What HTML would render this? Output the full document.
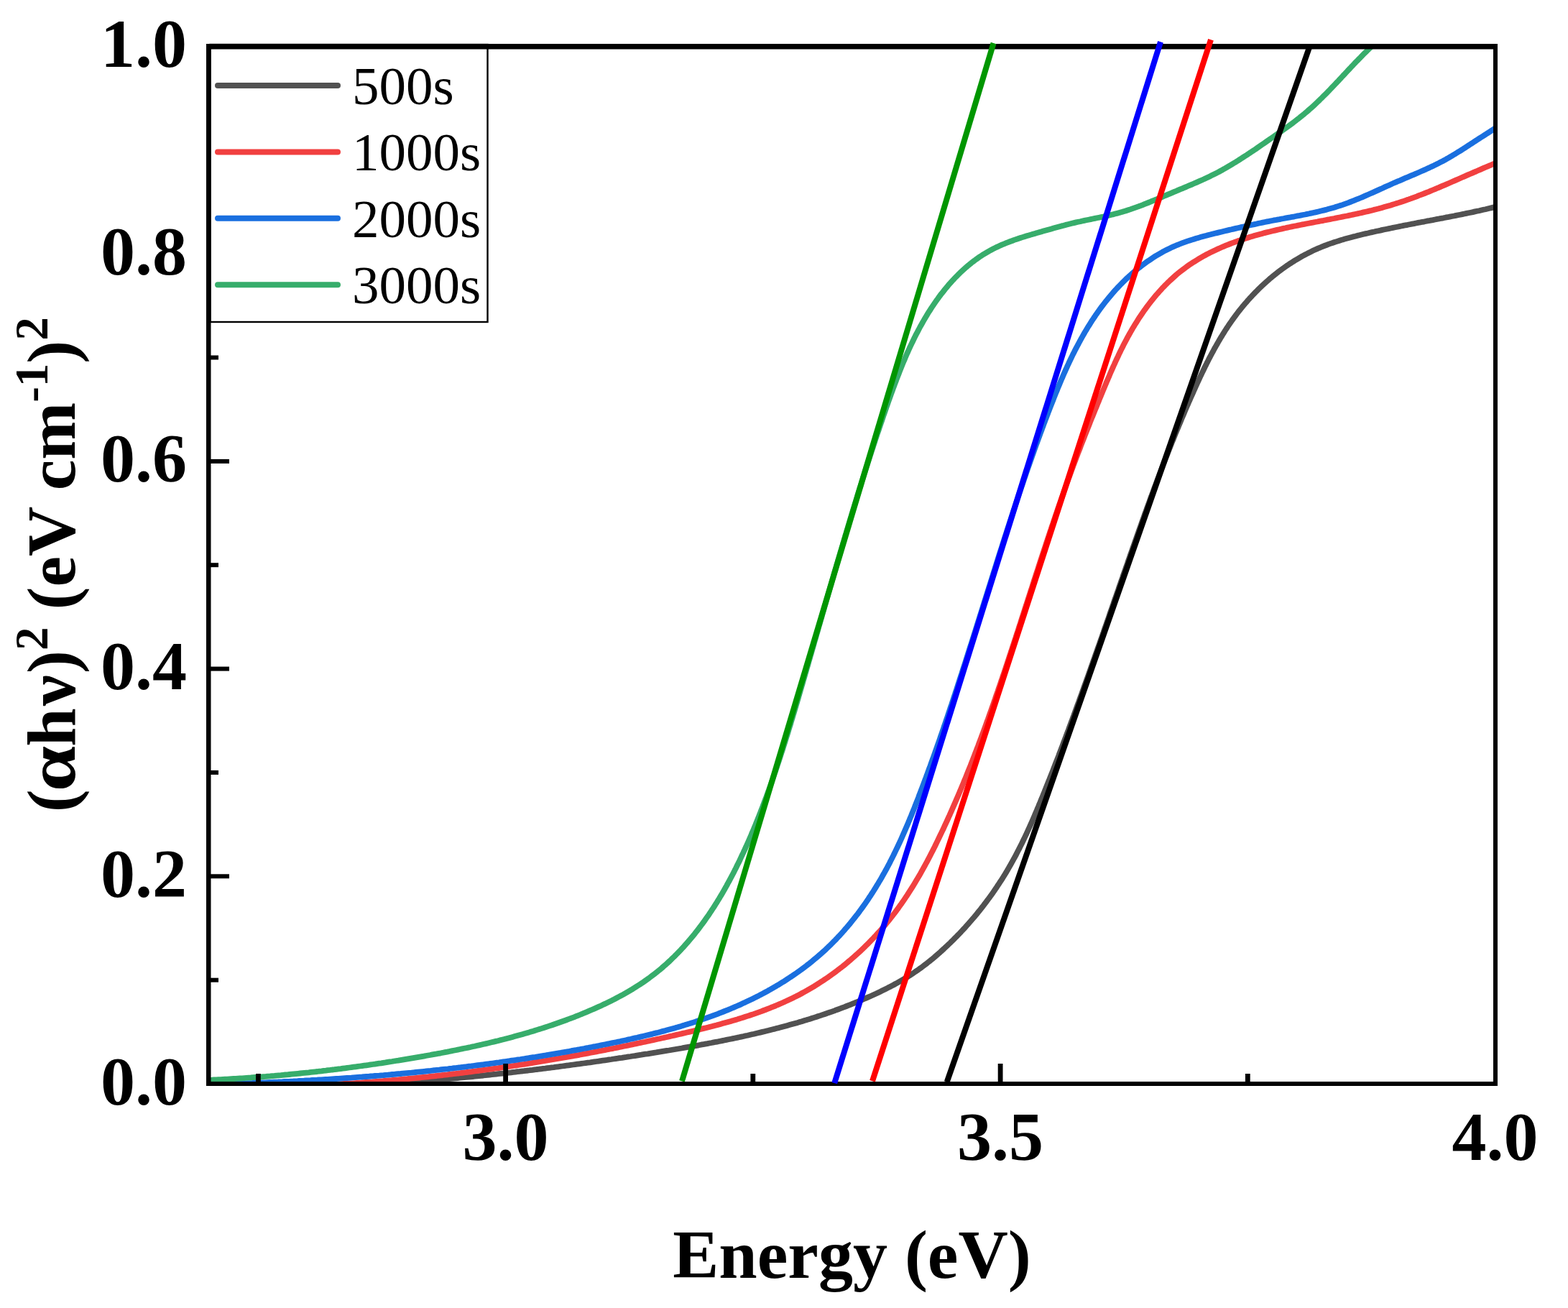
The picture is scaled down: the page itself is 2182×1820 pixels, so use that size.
<!DOCTYPE html>
<html><head><meta charset="utf-8"><title>Tauc plot</title>
<style>
html,body{margin:0;padding:0;background:#fff;}
svg{display:block;}
.tk{font-family:"Liberation Serif","Times New Roman",serif;font-weight:bold;font-size:96px;fill:#000;}
.lg{font-family:"Liberation Serif","Times New Roman",serif;font-size:75px;fill:#000;}
.ti{font-family:"Liberation Serif","Times New Roman",serif;font-weight:bold;font-size:96px;fill:#000;}
</style></head>
<body>
<svg width="2182" height="1820" viewBox="0 0 2182 1820">
<rect width="2182" height="1820" fill="#fff"/>
<defs><clipPath id="pc"><rect x="290" y="64" width="1791" height="1444"/></clipPath></defs>
<g clip-path="url(#pc)">
<polyline points="489.8,1510.8 492.8,1510.6 495.8,1510.5 498.8,1510.3 501.9,1510.1 504.9,1510.0 507.9,1509.8 510.9,1509.6 513.9,1509.4 516.9,1509.3 519.9,1509.1 522.9,1508.9 526.0,1508.7 529.0,1508.5 532.0,1508.3 535.0,1508.1 538.0,1507.9 541.0,1507.7 544.0,1507.5 547.0,1507.3 550.0,1507.1 553.0,1506.9 556.0,1506.7 559.0,1506.5 562.0,1506.2 565.0,1506.0 568.0,1505.8 571.0,1505.6 574.0,1505.3 577.0,1505.1 580.0,1504.9 583.0,1504.6 586.0,1504.4 589.0,1504.2 592.0,1503.9 595.0,1503.7 598.0,1503.4 600.9,1503.2 603.9,1502.9 606.9,1502.7 609.9,1502.4 612.9,1502.2 615.9,1501.9 618.9,1501.6 621.9,1501.4 624.8,1501.1 627.8,1500.8 630.8,1500.5 633.8,1500.3 636.8,1500.0 639.8,1499.7 642.8,1499.4 645.7,1499.1 648.7,1498.8 651.7,1498.6 654.7,1498.3 657.7,1498.0 660.6,1497.7 663.6,1497.4 666.6,1497.1 669.6,1496.8 672.6,1496.5 675.5,1496.1 678.5,1495.8 681.5,1495.5 684.5,1495.2 687.4,1494.9 690.4,1494.6 693.4,1494.2 696.4,1493.9 699.3,1493.6 702.3,1493.3 705.3,1492.9 708.3,1492.6 711.2,1492.3 714.2,1491.9 717.2,1491.6 720.1,1491.2 723.1,1490.9 726.1,1490.5 729.1,1490.2 732.0,1489.8 735.0,1489.5 738.0,1489.1 740.9,1488.8 743.9,1488.4 746.9,1488.0 749.9,1487.7 752.8,1487.3 755.8,1486.9 758.8,1486.6 761.7,1486.2 764.7,1485.8 767.7,1485.4 770.6,1485.1 773.6,1484.7 776.6,1484.3 779.5,1483.9 782.5,1483.5 785.5,1483.1 788.4,1482.7 791.4,1482.3 794.4,1481.9 797.3,1481.5 800.3,1481.1 803.3,1480.7 806.2,1480.3 809.2,1479.9 812.2,1479.5 815.1,1479.1 818.1,1478.7 821.1,1478.3 824.0,1477.8 827.0,1477.4 830.0,1477.0 832.9,1476.6 835.9,1476.1 838.9,1475.7 841.8,1475.3 844.8,1474.9 847.8,1474.4 850.7,1474.0 853.7,1473.5 856.7,1473.1 859.6,1472.7 862.6,1472.2 865.6,1471.8 868.5,1471.3 871.5,1470.9 874.5,1470.4 877.4,1470.0 880.4,1469.5 883.4,1469.1 886.3,1468.6 889.3,1468.1 892.3,1467.7 895.2,1467.2 898.2,1466.7 901.2,1466.3 904.2,1465.8 907.1,1465.3 910.1,1464.8 913.1,1464.4 916.0,1463.9 919.0,1463.4 922.0,1462.9 924.9,1462.4 927.9,1461.9 930.9,1461.5 933.9,1461.0 936.8,1460.5 939.8,1460.0 942.8,1459.5 945.7,1459.0 948.7,1458.5 951.7,1457.9 954.6,1457.4 957.6,1456.9 960.6,1456.4 963.5,1455.9 966.5,1455.3 969.5,1454.8 972.4,1454.3 975.4,1453.7 978.4,1453.2 981.3,1452.6 984.3,1452.1 987.3,1451.5 990.2,1451.0 993.2,1450.4 996.1,1449.8 999.1,1449.3 1002.0,1448.7 1005.0,1448.1 1007.9,1447.5 1010.9,1446.9 1013.8,1446.3 1016.8,1445.7 1019.7,1445.1 1022.7,1444.5 1025.6,1443.9 1028.6,1443.2 1031.5,1442.6 1034.5,1442.0 1037.4,1441.3 1040.3,1440.7 1043.3,1440.0 1046.2,1439.3 1049.1,1438.7 1052.0,1438.0 1055.0,1437.3 1057.9,1436.6 1060.8,1435.9 1063.7,1435.2 1066.6,1434.5 1069.6,1433.8 1072.5,1433.0 1075.4,1432.3 1078.3,1431.6 1081.2,1430.8 1084.1,1430.1 1087.0,1429.3 1089.9,1428.5 1092.8,1427.7 1095.7,1426.9 1098.6,1426.1 1101.4,1425.3 1104.3,1424.5 1107.2,1423.7 1110.1,1422.9 1112.9,1422.0 1115.8,1421.2 1118.7,1420.3 1121.5,1419.4 1124.4,1418.6 1127.3,1417.7 1130.1,1416.8 1133.0,1415.9 1135.8,1415.0 1138.6,1414.0 1141.5,1413.1 1144.3,1412.1 1147.1,1411.2 1150.0,1410.2 1152.8,1409.2 1155.6,1408.3 1158.4,1407.3 1161.2,1406.3 1164.0,1405.2 1166.9,1404.2 1169.7,1403.2 1172.4,1402.1 1175.2,1401.1 1178.0,1400.0 1180.8,1398.9 1183.6,1397.8 1186.4,1396.7 1189.1,1395.6 1191.9,1394.5 1194.7,1393.3 1197.4,1392.2 1200.2,1391.0 1202.9,1389.8 1205.6,1388.6 1208.4,1387.4 1211.1,1386.2 1213.8,1385.0 1216.6,1383.7 1219.3,1382.5 1222.0,1381.2 1224.7,1379.9 1227.4,1378.6 1230.1,1377.3 1232.7,1376.0 1235.4,1374.6 1238.1,1373.3 1240.7,1371.9 1243.4,1370.5 1246.0,1369.0 1248.6,1367.6 1251.2,1366.1 1253.8,1364.6 1256.4,1363.1 1258.9,1361.6 1261.5,1360.1 1264.0,1358.5 1266.6,1356.9 1269.1,1355.3 1271.6,1353.6 1274.0,1351.9 1276.5,1350.3 1278.9,1348.5 1281.4,1346.8 1283.8,1345.0 1286.2,1343.2 1288.6,1341.4 1290.9,1339.5 1293.3,1337.7 1295.6,1335.8 1297.9,1333.9 1300.2,1332.0 1302.5,1330.0 1304.8,1328.0 1307.1,1326.1 1309.3,1324.0 1311.5,1322.0 1313.7,1320.0 1315.9,1317.9 1318.1,1315.9 1320.3,1313.8 1322.5,1311.7 1324.6,1309.6 1326.8,1307.5 1328.9,1305.3 1331.0,1303.2 1333.1,1301.0 1335.2,1298.9 1337.3,1296.7 1339.3,1294.5 1341.4,1292.3 1343.4,1290.1 1345.4,1287.8 1347.4,1285.6 1349.4,1283.3 1351.4,1281.0 1353.3,1278.8 1355.3,1276.5 1357.2,1274.2 1359.1,1271.9 1361.0,1269.5 1362.9,1267.2 1364.8,1264.8 1366.6,1262.5 1368.5,1260.1 1370.3,1257.7 1372.1,1255.3 1373.9,1252.9 1375.7,1250.5 1377.5,1248.1 1379.2,1245.7 1381.0,1243.2 1382.7,1240.8 1384.4,1238.3 1386.1,1235.8 1387.7,1233.3 1389.4,1230.8 1391.0,1228.3 1392.7,1225.8 1394.3,1223.3 1395.9,1220.7 1397.5,1218.2 1399.0,1215.7 1400.6,1213.1 1402.1,1210.5 1403.6,1207.9 1405.1,1205.3 1406.6,1202.8 1408.0,1200.1 1409.5,1197.5 1410.9,1194.9 1412.4,1192.3 1413.8,1189.6 1415.1,1187.0 1416.5,1184.3 1417.9,1181.7 1419.2,1179.0 1420.6,1176.3 1421.9,1173.7 1423.2,1171.0 1424.5,1168.3 1425.8,1165.6 1427.1,1162.9 1428.4,1160.2 1429.6,1157.5 1430.9,1154.7 1432.1,1152.0 1433.3,1149.3 1434.6,1146.5 1435.8,1143.8 1437.0,1141.1 1438.2,1138.3 1439.4,1135.6 1440.5,1132.8 1441.7,1130.0 1442.9,1127.3 1444.0,1124.5 1445.2,1121.8 1446.3,1119.0 1447.5,1116.2 1448.6,1113.4 1449.8,1110.7 1450.9,1107.9 1452.0,1105.1 1453.2,1102.3 1454.3,1099.5 1455.4,1096.8 1456.5,1094.0 1457.6,1091.2 1458.7,1088.4 1459.9,1085.6 1461.0,1082.8 1462.1,1080.0 1463.2,1077.2 1464.3,1074.4 1465.4,1071.7 1466.4,1068.9 1467.5,1066.1 1468.6,1063.3 1469.7,1060.5 1470.8,1057.7 1471.9,1054.9 1473.0,1052.1 1474.0,1049.3 1475.1,1046.5 1476.2,1043.7 1477.2,1040.9 1478.3,1038.1 1479.4,1035.2 1480.4,1032.4 1481.5,1029.6 1482.6,1026.8 1483.6,1024.0 1484.7,1021.2 1485.7,1018.4 1486.8,1015.6 1487.8,1012.8 1488.9,1010.0 1489.9,1007.1 1491.0,1004.3 1492.0,1001.5 1493.0,998.7 1494.1,995.9 1495.1,993.1 1496.1,990.3 1497.2,987.4 1498.2,984.6 1499.2,981.8 1500.3,979.0 1501.3,976.2 1502.3,973.3 1503.3,970.5 1504.4,967.7 1505.4,964.9 1506.4,962.0 1507.4,959.2 1508.4,956.4 1509.4,953.6 1510.5,950.7 1511.5,947.9 1512.5,945.1 1513.5,942.3 1514.5,939.4 1515.5,936.6 1516.5,933.8 1517.5,931.0 1518.5,928.1 1519.5,925.3 1520.5,922.5 1521.5,919.6 1522.5,916.8 1523.5,914.0 1524.5,911.1 1525.5,908.3 1526.5,905.5 1527.5,902.6 1528.5,899.8 1529.5,897.0 1530.5,894.2 1531.5,891.3 1532.5,888.5 1533.5,885.7 1534.5,882.8 1535.5,880.0 1536.4,877.2 1537.4,874.3 1538.4,871.5 1539.4,868.7 1540.4,865.8 1541.4,863.0 1542.4,860.2 1543.4,857.3 1544.3,854.5 1545.3,851.6 1546.3,848.8 1547.3,846.0 1548.3,843.1 1549.3,840.3 1550.2,837.5 1551.2,834.6 1552.2,831.8 1553.2,829.0 1554.2,826.1 1555.2,823.3 1556.2,820.5 1557.1,817.6 1558.1,814.8 1559.1,812.0 1560.1,809.1 1561.1,806.3 1562.1,803.5 1563.0,800.6 1564.0,797.8 1565.0,795.0 1566.0,792.2 1567.0,789.3 1568.0,786.5 1569.0,783.7 1569.9,780.8 1570.9,778.0 1571.9,775.2 1572.9,772.3 1573.9,769.5 1574.9,766.7 1575.9,763.9 1576.9,761.0 1577.9,758.2 1578.9,755.4 1579.9,752.5 1580.9,749.7 1581.9,746.9 1582.9,744.1 1583.9,741.2 1584.9,738.4 1585.9,735.6 1586.9,732.8 1587.9,730.0 1588.9,727.1 1589.9,724.3 1590.9,721.5 1591.9,718.7 1592.9,715.8 1594.0,713.0 1595.0,710.2 1596.0,707.4 1597.0,704.6 1598.1,701.8 1599.1,698.9 1600.1,696.1 1601.1,693.3 1602.2,690.5 1603.2,687.7 1604.3,684.9 1605.3,682.1 1606.3,679.3 1607.4,676.5 1608.4,673.7 1609.5,670.8 1610.5,668.0 1611.6,665.2 1612.7,662.4 1613.7,659.6 1614.8,656.8 1615.9,654.0 1616.9,651.2 1618.0,648.4 1619.1,645.6 1620.2,642.8 1621.2,640.0 1622.3,637.3 1623.4,634.5 1624.5,631.7 1625.6,628.9 1626.7,626.1 1627.8,623.3 1628.9,620.5 1630.0,617.7 1631.1,614.9 1632.3,612.2 1633.4,609.4 1634.5,606.6 1635.6,603.8 1636.8,601.0 1637.9,598.3 1639.1,595.5 1640.2,592.7 1641.4,589.9 1642.5,587.2 1643.7,584.4 1644.8,581.6 1646.0,578.9 1647.2,576.1 1648.4,573.3 1649.5,570.6 1650.7,567.8 1651.9,565.0 1653.1,562.3 1654.3,559.5 1655.5,556.8 1656.7,554.0 1657.9,551.3 1659.2,548.5 1660.4,545.8 1661.6,543.0 1662.9,540.3 1664.1,537.5 1665.3,534.8 1666.6,532.1 1667.9,529.3 1669.1,526.6 1670.4,523.9 1671.7,521.1 1673.0,518.4 1674.3,515.7 1675.6,513.0 1676.9,510.3 1678.3,507.6 1679.6,504.9 1681.0,502.2 1682.3,499.6 1683.7,496.9 1685.1,494.2 1686.5,491.6 1688.0,489.0 1689.4,486.3 1690.8,483.7 1692.3,481.1 1693.8,478.5 1695.3,475.9 1696.8,473.3 1698.3,470.7 1699.9,468.2 1701.4,465.6 1703.0,463.1 1704.6,460.5 1706.2,458.0 1707.9,455.5 1709.5,453.0 1711.2,450.6 1712.9,448.1 1714.6,445.6 1716.4,443.2 1718.1,440.8 1719.9,438.4 1721.7,436.0 1723.5,433.6 1725.4,431.3 1727.3,428.9 1729.1,426.6 1731.1,424.3 1733.0,422.0 1735.0,419.8 1736.9,417.5 1738.9,415.3 1741.0,413.1 1743.0,410.9 1745.1,408.7 1747.2,406.5 1749.3,404.4 1751.4,402.3 1753.5,400.2 1755.7,398.1 1757.9,396.1 1760.1,394.1 1762.3,392.1 1764.6,390.1 1766.8,388.1 1769.1,386.2 1771.4,384.3 1773.7,382.4 1776.1,380.6 1778.4,378.7 1780.8,376.9 1783.2,375.1 1785.6,373.4 1788.1,371.6 1790.5,369.9 1793.0,368.3 1795.5,366.6 1798.0,365.0 1800.5,363.4 1803.0,361.8 1805.6,360.3 1808.1,358.8 1810.7,357.3 1813.3,355.9 1815.9,354.5 1818.6,353.1 1821.2,351.7 1823.9,350.4 1826.6,349.1 1829.3,347.8 1832.0,346.6 1834.7,345.4 1837.5,344.3 1840.2,343.1 1843.0,342.0 1845.8,341.0 1848.6,339.9 1851.4,338.9 1854.2,338.0 1857.0,337.0 1859.9,336.1 1862.7,335.2 1865.6,334.3 1868.5,333.4 1871.3,332.6 1874.2,331.8 1877.1,331.0 1880.0,330.2 1882.9,329.4 1885.8,328.7 1888.7,327.9 1891.7,327.2 1894.6,326.5 1897.5,325.8 1900.4,325.1 1903.4,324.5 1906.3,323.8 1909.2,323.1 1912.1,322.5 1915.1,321.8 1918.0,321.2 1920.9,320.6 1923.8,319.9 1926.8,319.3 1929.7,318.7 1932.6,318.1 1935.5,317.5 1938.5,316.9 1941.4,316.3 1944.3,315.7 1947.2,315.1 1950.2,314.5 1953.1,313.9 1956.0,313.3 1958.9,312.8 1961.8,312.2 1964.8,311.6 1967.7,311.1 1970.6,310.5 1973.5,309.9 1976.4,309.4 1979.4,308.8 1982.3,308.3 1985.2,307.7 1988.1,307.2 1991.1,306.6 1994.0,306.1 1996.9,305.5 1999.8,304.9 2002.7,304.4 2005.7,303.8 2008.6,303.3 2011.5,302.7 2014.4,302.2 2017.3,301.6 2020.3,301.0 2023.2,300.5 2026.1,299.9 2029.0,299.3 2032.0,298.7 2034.9,298.1 2037.8,297.5 2040.7,296.9 2043.7,296.3 2046.6,295.7 2049.5,295.1 2052.4,294.4 2055.4,293.8 2058.3,293.2 2061.2,292.5 2064.2,291.8 2067.1,291.2 2070.0,290.5 2073.0,289.8 2075.9,289.1 2078.8,288.4 2081.8,287.7 2084.7,286.9 2087.6,286.2 2090.0,285.6" fill="none" stroke="#515151" stroke-width="7.8" stroke-linejoin="round" stroke-linecap="round"/>
<polyline points="440.0,1510.1 443.0,1510.0 446.0,1509.8 449.0,1509.7 452.0,1509.5 455.0,1509.4 458.0,1509.2 461.0,1509.1 464.0,1508.9 467.0,1508.7 470.0,1508.6 473.0,1508.4 476.0,1508.2 479.0,1508.0 482.0,1507.8 485.0,1507.7 488.0,1507.5 490.9,1507.3 493.9,1507.1 496.9,1506.9 499.9,1506.7 502.9,1506.5 505.9,1506.2 508.9,1506.0 511.9,1505.8 514.9,1505.6 517.9,1505.4 520.9,1505.1 523.9,1504.9 526.9,1504.7 529.9,1504.4 532.8,1504.2 535.8,1503.9 538.8,1503.7 541.8,1503.4 544.8,1503.2 547.8,1502.9 550.8,1502.6 553.8,1502.4 556.7,1502.1 559.7,1501.8 562.7,1501.5 565.7,1501.3 568.7,1501.0 571.7,1500.7 574.7,1500.4 577.6,1500.1 580.6,1499.8 583.6,1499.5 586.6,1499.2 589.6,1498.9 592.6,1498.6 595.5,1498.3 598.5,1497.9 601.5,1497.6 604.5,1497.3 607.5,1497.0 610.5,1496.6 613.4,1496.3 616.4,1496.0 619.4,1495.6 622.4,1495.3 625.3,1494.9 628.3,1494.6 631.3,1494.2 634.3,1493.9 637.3,1493.5 640.2,1493.2 643.2,1492.8 646.2,1492.4 649.2,1492.0 652.1,1491.7 655.1,1491.3 658.1,1490.9 661.1,1490.5 664.0,1490.1 667.0,1489.7 670.0,1489.3 672.9,1488.9 675.9,1488.5 678.9,1488.1 681.9,1487.7 684.8,1487.3 687.8,1486.9 690.8,1486.5 693.7,1486.1 696.7,1485.6 699.7,1485.2 702.6,1484.8 705.6,1484.3 708.6,1483.9 711.5,1483.5 714.5,1483.0 717.5,1482.6 720.4,1482.1 723.4,1481.7 726.4,1481.2 729.3,1480.8 732.3,1480.3 735.2,1479.8 738.2,1479.4 741.2,1478.9 744.1,1478.4 747.1,1477.9 750.1,1477.5 753.0,1477.0 756.0,1476.5 758.9,1476.0 761.9,1475.5 764.8,1475.0 767.8,1474.5 770.8,1474.0 773.7,1473.5 776.7,1473.0 779.6,1472.5 782.6,1472.0 785.5,1471.5 788.5,1470.9 791.4,1470.4 794.4,1469.9 797.4,1469.4 800.3,1468.8 803.3,1468.3 806.2,1467.8 809.2,1467.2 812.1,1466.7 815.1,1466.1 818.0,1465.6 821.0,1465.0 823.9,1464.5 826.9,1463.9 829.8,1463.4 832.8,1462.8 835.7,1462.2 838.6,1461.6 841.6,1461.1 844.5,1460.5 847.5,1459.9 850.4,1459.3 853.4,1458.8 856.3,1458.2 859.3,1457.6 862.2,1457.0 865.1,1456.4 868.1,1455.8 871.0,1455.2 874.0,1454.6 876.9,1454.0 879.8,1453.4 882.8,1452.8 885.7,1452.1 888.7,1451.5 891.6,1450.9 894.5,1450.3 897.5,1449.7 900.4,1449.0 903.3,1448.4 906.3,1447.8 909.2,1447.1 912.1,1446.5 915.1,1445.8 918.0,1445.2 920.9,1444.5 923.9,1443.9 926.8,1443.2 929.7,1442.6 932.7,1441.9 935.6,1441.3 938.5,1440.6 941.5,1439.9 944.4,1439.2 947.3,1438.6 950.2,1437.9 953.2,1437.2 956.1,1436.5 959.0,1435.9 961.9,1435.2 964.9,1434.5 967.8,1433.8 970.7,1433.1 973.6,1432.4 976.5,1431.6 979.5,1430.9 982.4,1430.2 985.3,1429.5 988.2,1428.7 991.1,1428.0 994.0,1427.2 996.9,1426.5 999.8,1425.7 1002.7,1424.9 1005.6,1424.1 1008.5,1423.3 1011.4,1422.5 1014.2,1421.7 1017.1,1420.9 1020.0,1420.1 1022.9,1419.2 1025.7,1418.4 1028.6,1417.5 1031.4,1416.6 1034.3,1415.7 1037.1,1414.8 1040.0,1413.9 1042.8,1413.0 1045.6,1412.0 1048.5,1411.1 1051.3,1410.1 1054.1,1409.1 1056.9,1408.1 1059.7,1407.1 1062.5,1406.0 1065.3,1405.0 1068.1,1403.9 1070.9,1402.8 1073.6,1401.7 1076.4,1400.6 1079.2,1399.5 1081.9,1398.3 1084.6,1397.2 1087.4,1396.0 1090.1,1394.8 1092.8,1393.5 1095.5,1392.3 1098.2,1391.0 1100.9,1389.7 1103.6,1388.4 1106.3,1387.1 1109.0,1385.7 1111.6,1384.4 1114.3,1383.0 1116.9,1381.5 1119.5,1380.1 1122.2,1378.6 1124.8,1377.1 1127.4,1375.6 1130.0,1374.1 1132.6,1372.6 1135.1,1371.0 1137.7,1369.4 1140.2,1367.8 1142.8,1366.1 1145.3,1364.5 1147.8,1362.8 1150.3,1361.1 1152.8,1359.4 1155.3,1357.6 1157.7,1355.9 1160.2,1354.1 1162.6,1352.3 1165.0,1350.5 1167.4,1348.7 1169.8,1346.8 1172.2,1345.0 1174.6,1343.1 1176.9,1341.2 1179.2,1339.3 1181.5,1337.3 1183.8,1335.4 1186.1,1333.4 1188.4,1331.4 1190.6,1329.4 1192.9,1327.4 1195.1,1325.4 1197.3,1323.4 1199.5,1321.3 1201.6,1319.2 1203.8,1317.1 1205.9,1315.0 1208.0,1312.9 1210.1,1310.8 1212.2,1308.6 1214.3,1306.5 1216.3,1304.3 1218.4,1302.1 1220.4,1299.9 1222.4,1297.7 1224.4,1295.5 1226.4,1293.2 1228.3,1291.0 1230.2,1288.7 1232.2,1286.4 1234.1,1284.1 1236.0,1281.8 1237.8,1279.5 1239.7,1277.1 1241.5,1274.8 1243.4,1272.4 1245.2,1270.1 1247.0,1267.7 1248.7,1265.3 1250.5,1262.9 1252.2,1260.4 1254.0,1258.0 1255.7,1255.6 1257.4,1253.1 1259.1,1250.6 1260.7,1248.2 1262.4,1245.7 1264.0,1243.2 1265.6,1240.7 1267.2,1238.2 1268.8,1235.6 1270.4,1233.1 1272.0,1230.5 1273.5,1228.0 1275.0,1225.4 1276.6,1222.8 1278.1,1220.3 1279.6,1217.7 1281.1,1215.1 1282.5,1212.5 1284.0,1209.9 1285.5,1207.2 1286.9,1204.6 1288.3,1202.0 1289.8,1199.3 1291.2,1196.7 1292.6,1194.0 1293.9,1191.4 1295.3,1188.7 1296.7,1186.0 1298.1,1183.4 1299.4,1180.7 1300.8,1178.0 1302.1,1175.3 1303.4,1172.6 1304.7,1169.9 1306.0,1167.2 1307.3,1164.5 1308.6,1161.8 1309.9,1159.1 1311.2,1156.4 1312.5,1153.7 1313.8,1150.9 1315.0,1148.2 1316.3,1145.5 1317.5,1142.8 1318.8,1140.0 1320.0,1137.3 1321.3,1134.6 1322.5,1131.8 1323.7,1129.1 1324.9,1126.4 1326.1,1123.6 1327.3,1120.9 1328.5,1118.1 1329.7,1115.4 1330.9,1112.6 1332.1,1109.9 1333.3,1107.1 1334.5,1104.4 1335.6,1101.6 1336.8,1098.8 1338.0,1096.1 1339.1,1093.3 1340.3,1090.5 1341.4,1087.8 1342.5,1085.0 1343.7,1082.2 1344.8,1079.5 1345.9,1076.7 1347.0,1073.9 1348.2,1071.1 1349.3,1068.3 1350.4,1065.6 1351.5,1062.8 1352.6,1060.0 1353.7,1057.2 1354.7,1054.4 1355.8,1051.6 1356.9,1048.8 1358.0,1046.0 1359.0,1043.2 1360.1,1040.4 1361.2,1037.6 1362.2,1034.8 1363.3,1032.0 1364.3,1029.2 1365.4,1026.4 1366.4,1023.6 1367.5,1020.8 1368.5,1018.0 1369.5,1015.2 1370.6,1012.3 1371.6,1009.5 1372.6,1006.7 1373.6,1003.9 1374.7,1001.1 1375.7,998.2 1376.7,995.4 1377.7,992.6 1378.7,989.8 1379.7,987.0 1380.7,984.1 1381.7,981.3 1382.7,978.5 1383.7,975.6 1384.7,972.8 1385.6,970.0 1386.6,967.1 1387.6,964.3 1388.6,961.5 1389.5,958.6 1390.5,955.8 1391.5,953.0 1392.5,950.1 1393.4,947.3 1394.4,944.4 1395.3,941.6 1396.3,938.8 1397.3,935.9 1398.2,933.1 1399.2,930.2 1400.1,927.4 1401.1,924.5 1402.0,921.7 1403.0,918.8 1403.9,916.0 1404.8,913.1 1405.8,910.3 1406.7,907.4 1407.7,904.6 1408.6,901.7 1409.5,898.9 1410.5,896.0 1411.4,893.2 1412.3,890.3 1413.3,887.5 1414.2,884.6 1415.1,881.8 1416.1,878.9 1417.0,876.1 1417.9,873.2 1418.8,870.3 1419.8,867.5 1420.7,864.6 1421.6,861.8 1422.5,858.9 1423.5,856.1 1424.4,853.2 1425.3,850.4 1426.2,847.5 1427.1,844.6 1428.1,841.8 1429.0,838.9 1429.9,836.1 1430.8,833.2 1431.8,830.3 1432.7,827.5 1433.6,824.6 1434.5,821.8 1435.5,818.9 1436.4,816.1 1437.3,813.2 1438.2,810.3 1439.1,807.5 1440.1,804.6 1441.0,801.8 1441.9,798.9 1442.8,796.1 1443.8,793.2 1444.7,790.4 1445.6,787.5 1446.6,784.6 1447.5,781.8 1448.4,778.9 1449.4,776.1 1450.3,773.2 1451.2,770.4 1452.2,767.5 1453.1,764.7 1454.1,761.8 1455.0,759.0 1455.9,756.1 1456.9,753.3 1457.8,750.4 1458.8,747.6 1459.7,744.7 1460.7,741.9 1461.6,739.0 1462.6,736.2 1463.5,733.3 1464.5,730.5 1465.5,727.7 1466.4,724.8 1467.4,722.0 1468.4,719.1 1469.3,716.3 1470.3,713.5 1471.3,710.6 1472.2,707.8 1473.2,704.9 1474.2,702.1 1475.2,699.3 1476.2,696.4 1477.2,693.6 1478.2,690.8 1479.2,687.9 1480.2,685.1 1481.2,682.3 1482.2,679.5 1483.2,676.6 1484.2,673.8 1485.2,671.0 1486.2,668.2 1487.2,665.3 1488.3,662.5 1489.3,659.7 1490.3,656.9 1491.3,654.1 1492.4,651.3 1493.4,648.4 1494.5,645.6 1495.5,642.8 1496.6,640.0 1497.6,637.2 1498.7,634.4 1499.7,631.6 1500.8,628.8 1501.9,626.0 1503.0,623.2 1504.0,620.4 1505.1,617.6 1506.2,614.8 1507.3,612.0 1508.4,609.2 1509.5,606.4 1510.6,603.6 1511.7,600.8 1512.8,598.1 1513.9,595.3 1515.0,592.5 1516.1,589.7 1517.2,586.9 1518.3,584.1 1519.4,581.4 1520.6,578.6 1521.7,575.8 1522.8,573.0 1523.9,570.3 1525.1,567.5 1526.2,564.7 1527.3,561.9 1528.5,559.2 1529.6,556.4 1530.7,553.6 1531.9,550.9 1533.0,548.1 1534.2,545.3 1535.3,542.6 1536.5,539.8 1537.6,537.1 1538.8,534.3 1539.9,531.5 1541.1,528.8 1542.3,526.0 1543.5,523.3 1544.6,520.6 1545.8,517.8 1547.0,515.1 1548.2,512.4 1549.4,509.6 1550.7,506.9 1551.9,504.2 1553.1,501.5 1554.4,498.8 1555.7,496.1 1556.9,493.4 1558.2,490.7 1559.5,488.0 1560.9,485.3 1562.2,482.7 1563.5,480.0 1564.9,477.4 1566.3,474.7 1567.7,472.1 1569.1,469.4 1570.6,466.8 1572.0,464.2 1573.5,461.6 1575.0,459.0 1576.5,456.4 1578.0,453.9 1579.6,451.3 1581.2,448.8 1582.8,446.2 1584.4,443.7 1586.0,441.2 1587.7,438.7 1589.4,436.2 1591.1,433.8 1592.8,431.3 1594.6,428.9 1596.4,426.4 1598.2,424.0 1600.0,421.7 1601.8,419.3 1603.7,417.0 1605.6,414.6 1607.5,412.3 1609.4,410.0 1611.4,407.8 1613.4,405.5 1615.4,403.3 1617.4,401.1 1619.5,399.0 1621.6,396.8 1623.7,394.7 1625.8,392.6 1628.0,390.5 1630.2,388.5 1632.4,386.5 1634.6,384.5 1636.8,382.5 1639.1,380.6 1641.4,378.7 1643.8,376.9 1646.1,375.1 1648.5,373.3 1650.9,371.5 1653.3,369.8 1655.8,368.1 1658.2,366.5 1660.7,364.8 1663.2,363.3 1665.8,361.7 1668.3,360.2 1670.9,358.7 1673.5,357.2 1676.1,355.7 1678.7,354.3 1681.3,352.9 1684.0,351.6 1686.7,350.3 1689.3,349.0 1692.0,347.7 1694.8,346.4 1697.5,345.2 1700.2,344.0 1703.0,342.8 1705.7,341.7 1708.5,340.6 1711.3,339.5 1714.1,338.4 1716.9,337.4 1719.7,336.3 1722.5,335.3 1725.3,334.4 1728.1,333.4 1731.0,332.5 1733.8,331.6 1736.6,330.7 1739.5,329.8 1742.4,328.9 1745.2,328.1 1748.1,327.3 1751.0,326.5 1753.9,325.7 1756.8,324.9 1759.6,324.1 1762.5,323.4 1765.4,322.7 1768.4,322.0 1771.3,321.3 1774.2,320.6 1777.1,319.9 1780.0,319.2 1782.9,318.6 1785.9,317.9 1788.8,317.3 1791.7,316.6 1794.7,316.0 1797.6,315.4 1800.5,314.8 1803.5,314.2 1806.4,313.6 1809.4,313.0 1812.3,312.4 1815.2,311.9 1818.2,311.3 1821.1,310.7 1824.1,310.1 1827.0,309.6 1830.0,309.0 1832.9,308.5 1835.9,307.9 1838.8,307.3 1841.8,306.8 1844.7,306.2 1847.6,305.6 1850.6,305.1 1853.5,304.5 1856.5,304.0 1859.4,303.4 1862.4,302.8 1865.3,302.2 1868.2,301.6 1871.2,301.0 1874.1,300.5 1877.0,299.9 1879.9,299.2 1882.9,298.6 1885.8,298.0 1888.7,297.4 1891.6,296.7 1894.5,296.1 1897.4,295.4 1900.3,294.7 1903.2,294.1 1906.1,293.4 1909.0,292.7 1911.9,291.9 1914.8,291.2 1917.7,290.5 1920.6,289.7 1923.4,288.9 1926.3,288.1 1929.2,287.3 1932.0,286.5 1934.9,285.7 1937.7,284.8 1940.6,283.9 1943.4,283.0 1946.2,282.1 1949.0,281.2 1951.9,280.3 1954.7,279.3 1957.5,278.3 1960.3,277.4 1963.1,276.4 1965.9,275.3 1968.7,274.3 1971.5,273.3 1974.2,272.2 1977.0,271.2 1979.8,270.1 1982.6,269.0 1985.3,267.9 1988.1,266.8 1990.9,265.6 1993.6,264.5 1996.4,263.4 1999.1,262.2 2001.9,261.1 2004.6,259.9 2007.4,258.7 2010.1,257.6 2012.9,256.4 2015.6,255.2 2018.4,254.0 2021.1,252.8 2023.8,251.6 2026.6,250.4 2029.3,249.2 2032.1,248.0 2034.8,246.8 2037.6,245.6 2040.3,244.4 2043.1,243.2 2045.8,242.0 2048.6,240.8 2051.3,239.6 2054.1,238.5 2056.8,237.3 2059.6,236.1 2062.3,234.9 2065.1,233.7 2067.8,232.5 2070.6,231.3 2073.4,230.2 2076.1,229.0 2078.9,227.8 2081.7,226.7 2084.4,225.5 2087.2,224.4 2090.0,223.3 2090.1,223.2" fill="none" stroke="#F14040" stroke-width="7.8" stroke-linejoin="round" stroke-linecap="round"/>
<polyline points="299.8,1508.6 302.8,1508.5 305.9,1508.4 308.9,1508.4 311.9,1508.3 314.9,1508.2 317.9,1508.1 320.9,1508.0 323.9,1507.9 326.9,1507.8 329.9,1507.7 332.9,1507.6 335.9,1507.5 338.9,1507.4 341.9,1507.3 345.0,1507.2 348.0,1507.1 351.0,1507.0 354.0,1506.8 357.0,1506.7 360.0,1506.6 363.0,1506.5 366.0,1506.4 369.0,1506.3 372.0,1506.1 375.0,1506.0 378.0,1505.9 381.0,1505.7 384.0,1505.6 387.0,1505.5 390.0,1505.3 393.0,1505.2 396.0,1505.0 399.0,1504.9 402.0,1504.8 405.0,1504.6 408.0,1504.5 411.0,1504.3 414.0,1504.2 417.0,1504.0 420.0,1503.8 423.0,1503.7 426.0,1503.5 429.0,1503.3 432.0,1503.2 435.0,1503.0 438.0,1502.8 441.0,1502.7 444.0,1502.5 447.0,1502.3 450.0,1502.1 453.0,1501.9 455.9,1501.8 458.9,1501.6 461.9,1501.4 464.9,1501.2 467.9,1501.0 470.9,1500.8 473.9,1500.6 476.9,1500.4 479.9,1500.2 482.9,1500.0 485.9,1499.8 488.9,1499.6 491.8,1499.3 494.8,1499.1 497.8,1498.9 500.8,1498.7 503.8,1498.5 506.8,1498.2 509.8,1498.0 512.8,1497.8 515.8,1497.5 518.7,1497.3 521.7,1497.0 524.7,1496.8 527.7,1496.6 530.7,1496.3 533.7,1496.1 536.7,1495.8 539.6,1495.6 542.6,1495.3 545.6,1495.0 548.6,1494.8 551.6,1494.5 554.6,1494.2 557.5,1494.0 560.5,1493.7 563.5,1493.4 566.5,1493.1 569.5,1492.8 572.5,1492.6 575.4,1492.3 578.4,1492.0 581.4,1491.7 584.4,1491.4 587.4,1491.1 590.3,1490.8 593.3,1490.5 596.3,1490.2 599.3,1489.9 602.2,1489.5 605.2,1489.2 608.2,1488.9 611.2,1488.6 614.2,1488.2 617.1,1487.9 620.1,1487.6 623.1,1487.3 626.1,1486.9 629.0,1486.6 632.0,1486.2 635.0,1485.9 638.0,1485.5 640.9,1485.2 643.9,1484.8 646.9,1484.5 649.9,1484.1 652.8,1483.7 655.8,1483.4 658.8,1483.0 661.7,1482.6 664.7,1482.2 667.7,1481.8 670.7,1481.5 673.6,1481.1 676.6,1480.7 679.6,1480.3 682.5,1479.9 685.5,1479.5 688.5,1479.1 691.4,1478.7 694.4,1478.3 697.4,1477.8 700.3,1477.4 703.3,1477.0 706.3,1476.6 709.2,1476.2 712.2,1475.7 715.2,1475.3 718.1,1474.9 721.1,1474.4 724.1,1474.0 727.0,1473.5 730.0,1473.1 733.0,1472.6 735.9,1472.2 738.9,1471.7 741.9,1471.2 744.8,1470.8 747.8,1470.3 750.7,1469.8 753.7,1469.3 756.7,1468.8 759.6,1468.4 762.6,1467.9 765.5,1467.4 768.5,1466.9 771.5,1466.4 774.4,1465.9 777.4,1465.4 780.3,1464.9 783.3,1464.3 786.3,1463.8 789.2,1463.3 792.2,1462.8 795.1,1462.2 798.1,1461.7 801.1,1461.2 804.0,1460.6 807.0,1460.1 809.9,1459.5 812.9,1459.0 815.8,1458.4 818.8,1457.9 821.7,1457.3 824.7,1456.7 827.7,1456.2 830.6,1455.6 833.6,1455.0 836.5,1454.4 839.5,1453.8 842.4,1453.2 845.4,1452.6 848.3,1452.0 851.3,1451.4 854.2,1450.8 857.2,1450.2 860.1,1449.6 863.1,1449.0 866.0,1448.3 869.0,1447.7 871.9,1447.1 874.8,1446.4 877.8,1445.8 880.7,1445.1 883.7,1444.4 886.6,1443.8 889.5,1443.1 892.5,1442.4 895.4,1441.7 898.3,1441.0 901.2,1440.3 904.2,1439.6 907.1,1438.9 910.0,1438.1 912.9,1437.4 915.8,1436.7 918.7,1435.9 921.6,1435.1 924.5,1434.4 927.5,1433.6 930.3,1432.8 933.2,1432.0 936.1,1431.2 939.0,1430.4 941.9,1429.6 944.8,1428.7 947.7,1427.9 950.5,1427.0 953.4,1426.1 956.3,1425.3 959.1,1424.4 962.0,1423.5 964.8,1422.6 967.7,1421.7 970.5,1420.7 973.4,1419.8 976.2,1418.8 979.0,1417.9 981.9,1416.9 984.7,1415.9 987.5,1414.9 990.3,1413.9 993.1,1412.8 995.9,1411.8 998.7,1410.8 1001.5,1409.7 1004.3,1408.6 1007.1,1407.5 1009.8,1406.4 1012.6,1405.3 1015.4,1404.2 1018.1,1403.0 1020.9,1401.8 1023.6,1400.7 1026.3,1399.5 1029.1,1398.3 1031.8,1397.1 1034.5,1395.8 1037.2,1394.6 1039.9,1393.3 1042.6,1392.0 1045.3,1390.7 1048.0,1389.4 1050.7,1388.1 1053.3,1386.7 1056.0,1385.4 1058.7,1384.0 1061.3,1382.6 1063.9,1381.2 1066.6,1379.8 1069.2,1378.3 1071.8,1376.9 1074.4,1375.4 1077.0,1373.9 1079.6,1372.4 1082.2,1370.8 1084.8,1369.3 1087.3,1367.7 1089.9,1366.2 1092.4,1364.6 1094.9,1362.9 1097.4,1361.3 1099.9,1359.6 1102.4,1358.0 1104.9,1356.3 1107.4,1354.6 1109.8,1352.9 1112.3,1351.1 1114.7,1349.4 1117.1,1347.6 1119.5,1345.8 1121.9,1344.0 1124.3,1342.1 1126.7,1340.3 1129.0,1338.4 1131.3,1336.5 1133.6,1334.6 1135.9,1332.7 1138.2,1330.8 1140.5,1328.8 1142.7,1326.8 1145.0,1324.8 1147.2,1322.8 1149.4,1320.8 1151.5,1318.7 1153.7,1316.6 1155.9,1314.6 1158.0,1312.4 1160.1,1310.3 1162.2,1308.2 1164.3,1306.0 1166.3,1303.8 1168.4,1301.7 1170.4,1299.5 1172.4,1297.2 1174.4,1295.0 1176.3,1292.7 1178.3,1290.5 1180.2,1288.2 1182.2,1285.9 1184.1,1283.6 1186.0,1281.2 1187.8,1278.9 1189.7,1276.5 1191.5,1274.2 1193.4,1271.8 1195.2,1269.4 1196.9,1267.0 1198.7,1264.6 1200.5,1262.1 1202.2,1259.7 1204.0,1257.2 1205.7,1254.8 1207.4,1252.3 1209.0,1249.8 1210.7,1247.3 1212.3,1244.8 1214.0,1242.3 1215.6,1239.7 1217.2,1237.2 1218.8,1234.6 1220.3,1232.1 1221.9,1229.5 1223.4,1226.9 1224.9,1224.4 1226.5,1221.8 1227.9,1219.2 1229.4,1216.5 1230.9,1213.9 1232.3,1211.3 1233.8,1208.7 1235.2,1206.0 1236.6,1203.4 1238.0,1200.7 1239.3,1198.0 1240.7,1195.4 1242.0,1192.7 1243.4,1190.0 1244.7,1187.3 1246.0,1184.6 1247.3,1181.9 1248.6,1179.2 1249.9,1176.5 1251.2,1173.8 1252.4,1171.1 1253.7,1168.3 1254.9,1165.6 1256.1,1162.9 1257.3,1160.1 1258.5,1157.4 1259.7,1154.6 1260.9,1151.9 1262.1,1149.1 1263.3,1146.4 1264.4,1143.6 1265.6,1140.8 1266.7,1138.0 1267.9,1135.3 1269.0,1132.5 1270.1,1129.7 1271.3,1126.9 1272.4,1124.1 1273.5,1121.3 1274.6,1118.5 1275.7,1115.7 1276.8,1112.9 1277.9,1110.1 1278.9,1107.3 1280.0,1104.5 1281.1,1101.7 1282.1,1098.9 1283.2,1096.1 1284.3,1093.3 1285.3,1090.5 1286.4,1087.7 1287.4,1084.9 1288.5,1082.1 1289.5,1079.2 1290.6,1076.4 1291.6,1073.6 1292.6,1070.8 1293.7,1068.0 1294.7,1065.2 1295.7,1062.3 1296.7,1059.5 1297.7,1056.7 1298.8,1053.9 1299.8,1051.1 1300.8,1048.2 1301.8,1045.4 1302.8,1042.6 1303.8,1039.7 1304.8,1036.9 1305.8,1034.1 1306.8,1031.3 1307.8,1028.4 1308.7,1025.6 1309.7,1022.8 1310.7,1019.9 1311.7,1017.1 1312.7,1014.3 1313.6,1011.4 1314.6,1008.6 1315.6,1005.8 1316.5,1002.9 1317.5,1000.1 1318.5,997.2 1319.4,994.4 1320.4,991.6 1321.3,988.7 1322.3,985.9 1323.2,983.0 1324.2,980.2 1325.1,977.4 1326.1,974.5 1327.0,971.7 1327.9,968.8 1328.9,966.0 1329.8,963.1 1330.8,960.3 1331.7,957.4 1332.6,954.6 1333.5,951.7 1334.5,948.9 1335.4,946.0 1336.3,943.2 1337.2,940.3 1338.2,937.5 1339.1,934.6 1340.0,931.8 1340.9,928.9 1341.8,926.1 1342.8,923.2 1343.7,920.4 1344.6,917.5 1345.5,914.7 1346.4,911.8 1347.3,909.0 1348.2,906.1 1349.1,903.3 1350.0,900.4 1351.0,897.6 1351.9,894.7 1352.8,891.8 1353.7,889.0 1354.6,886.1 1355.5,883.3 1356.4,880.4 1357.3,877.6 1358.2,874.7 1359.1,871.8 1360.0,869.0 1360.9,866.1 1361.8,863.3 1362.7,860.4 1363.6,857.5 1364.5,854.7 1365.4,851.8 1366.3,849.0 1367.2,846.1 1368.1,843.3 1369.0,840.4 1369.9,837.5 1370.8,834.7 1371.7,831.8 1372.6,829.0 1373.5,826.1 1374.4,823.2 1375.3,820.4 1376.2,817.5 1377.1,814.7 1378.0,811.8 1378.9,808.9 1379.8,806.1 1380.7,803.2 1381.6,800.4 1382.5,797.5 1383.4,794.7 1384.3,791.8 1385.2,788.9 1386.1,786.1 1387.0,783.2 1387.9,780.4 1388.8,777.5 1389.7,774.6 1390.6,771.8 1391.5,768.9 1392.4,766.1 1393.4,763.2 1394.3,760.4 1395.2,757.5 1396.1,754.7 1397.0,751.8 1397.9,748.9 1398.8,746.1 1399.8,743.2 1400.7,740.4 1401.6,737.5 1402.5,734.7 1403.5,731.8 1404.4,729.0 1405.3,726.1 1406.3,723.3 1407.2,720.4 1408.1,717.6 1409.1,714.7 1410.0,711.9 1410.9,709.0 1411.9,706.2 1412.8,703.3 1413.8,700.5 1414.7,697.6 1415.7,694.8 1416.6,691.9 1417.6,689.1 1418.5,686.2 1419.5,683.4 1420.5,680.5 1421.4,677.7 1422.4,674.9 1423.4,672.0 1424.3,669.2 1425.3,666.3 1426.3,663.5 1427.2,660.7 1428.2,657.8 1429.2,655.0 1430.2,652.1 1431.2,649.3 1432.2,646.5 1433.2,643.6 1434.2,640.8 1435.2,638.0 1436.2,635.1 1437.2,632.3 1438.2,629.5 1439.2,626.6 1440.2,623.8 1441.2,621.0 1442.2,618.1 1443.3,615.3 1444.3,612.5 1445.3,609.7 1446.4,606.8 1447.4,604.0 1448.4,601.2 1449.5,598.4 1450.5,595.5 1451.6,592.7 1452.6,589.9 1453.7,587.1 1454.7,584.3 1455.8,581.5 1456.9,578.6 1458.0,575.8 1459.0,573.0 1460.1,570.2 1461.2,567.4 1462.3,564.6 1463.4,561.8 1464.5,559.0 1465.6,556.2 1466.7,553.4 1467.8,550.6 1468.9,547.8 1470.1,545.0 1471.2,542.2 1472.3,539.4 1473.5,536.6 1474.7,533.9 1475.8,531.1 1477.0,528.3 1478.2,525.6 1479.4,522.8 1480.6,520.0 1481.8,517.3 1483.0,514.6 1484.3,511.8 1485.5,509.1 1486.8,506.4 1488.0,503.7 1489.3,501.0 1490.6,498.3 1491.9,495.6 1493.2,492.9 1494.6,490.2 1495.9,487.6 1497.3,484.9 1498.7,482.2 1500.1,479.6 1501.5,477.0 1502.9,474.4 1504.3,471.7 1505.8,469.1 1507.2,466.6 1508.7,464.0 1510.2,461.4 1511.7,458.9 1513.3,456.3 1514.8,453.8 1516.4,451.3 1518.0,448.7 1519.6,446.2 1521.2,443.8 1522.9,441.3 1524.5,438.8 1526.2,436.4 1527.9,434.0 1529.7,431.5 1531.4,429.1 1533.2,426.7 1535.0,424.4 1536.8,422.0 1538.6,419.7 1540.5,417.3 1542.4,415.0 1544.3,412.7 1546.2,410.4 1548.1,408.2 1550.1,405.9 1552.1,403.7 1554.1,401.5 1556.2,399.3 1558.3,397.1 1560.4,394.9 1562.5,392.8 1564.6,390.7 1566.8,388.5 1569.0,386.5 1571.2,384.4 1573.5,382.4 1575.7,380.4 1578.0,378.4 1580.3,376.4 1582.7,374.5 1585.0,372.6 1587.4,370.8 1589.8,368.9 1592.2,367.1 1594.6,365.3 1597.1,363.6 1599.6,361.9 1602.1,360.2 1604.6,358.5 1607.1,356.9 1609.7,355.3 1612.3,353.8 1614.9,352.3 1617.5,350.8 1620.1,349.4 1622.8,348.0 1625.4,346.7 1628.1,345.4 1630.8,344.1 1633.6,342.9 1636.3,341.7 1639.1,340.6 1641.8,339.5 1644.6,338.4 1647.4,337.4 1650.2,336.4 1653.0,335.4 1655.9,334.5 1658.7,333.6 1661.6,332.7 1664.4,331.8 1667.3,331.0 1670.2,330.1 1673.1,329.3 1676.0,328.5 1678.9,327.8 1681.7,327.0 1684.6,326.3 1687.6,325.5 1690.5,324.8 1693.4,324.1 1696.3,323.4 1699.2,322.7 1702.1,322.0 1705.0,321.3 1707.9,320.6 1710.8,319.9 1713.7,319.3 1716.6,318.6 1719.5,317.9 1722.4,317.2 1725.3,316.6 1728.2,315.9 1731.1,315.3 1734.0,314.6 1736.9,314.0 1739.8,313.3 1742.7,312.7 1745.6,312.1 1748.5,311.5 1751.4,310.8 1754.3,310.2 1757.2,309.6 1760.2,309.0 1763.1,308.4 1766.0,307.9 1768.9,307.3 1771.9,306.7 1774.8,306.2 1777.7,305.6 1780.7,305.1 1783.6,304.5 1786.5,304.0 1789.5,303.4 1792.4,302.9 1795.4,302.4 1798.3,301.8 1801.3,301.3 1804.2,300.7 1807.2,300.2 1810.1,299.6 1813.0,299.0 1816.0,298.5 1818.9,297.9 1821.8,297.3 1824.8,296.6 1827.7,296.0 1830.6,295.4 1833.5,294.7 1836.4,294.0 1839.3,293.3 1842.2,292.6 1845.1,291.9 1848.0,291.1 1850.9,290.3 1853.7,289.5 1856.6,288.7 1859.4,287.8 1862.3,286.9 1865.1,286.0 1867.9,285.1 1870.7,284.1 1873.5,283.1 1876.3,282.1 1879.1,281.0 1881.9,279.9 1884.6,278.8 1887.4,277.7 1890.2,276.6 1892.9,275.5 1895.7,274.3 1898.4,273.1 1901.2,271.9 1903.9,270.7 1906.6,269.5 1909.4,268.3 1912.1,267.1 1914.8,265.9 1917.6,264.6 1920.3,263.4 1923.0,262.2 1925.7,260.9 1928.5,259.7 1931.2,258.5 1934.0,257.3 1936.7,256.0 1939.4,254.8 1942.2,253.6 1944.9,252.4 1947.7,251.3 1950.5,250.1 1953.2,248.9 1956.0,247.7 1958.7,246.6 1961.5,245.4 1964.3,244.2 1967.0,243.1 1969.8,241.9 1972.5,240.7 1975.3,239.5 1978.0,238.3 1980.7,237.1 1983.5,235.9 1986.2,234.6 1988.9,233.4 1991.6,232.1 1994.3,230.9 1997.0,229.6 1999.6,228.2 2002.3,226.9 2004.9,225.5 2007.6,224.2 2010.2,222.8 2012.8,221.3 2015.4,219.9 2017.9,218.4 2020.5,216.9 2023.1,215.3 2025.6,213.8 2028.1,212.2 2030.7,210.7 2033.2,209.1 2035.7,207.5 2038.2,205.9 2040.7,204.2 2043.2,202.6 2045.7,201.0 2048.2,199.4 2050.7,197.7 2053.2,196.1 2055.7,194.5 2058.2,192.9 2060.7,191.3 2063.2,189.7 2065.7,188.1 2068.2,186.5 2070.7,184.9 2073.2,183.2 2075.7,181.6 2078.2,179.9 2080.7,178.2 2083.1,176.5 2085.5,174.7 2087.9,172.9 2090.1,171.2" fill="none" stroke="#1A6FDF" stroke-width="7.8" stroke-linejoin="round" stroke-linecap="round"/>
<polyline points="279.9,1503.4 282.9,1503.2 286.0,1503.1 289.0,1503.0 292.0,1502.8 295.0,1502.7 298.0,1502.5 301.0,1502.4 304.0,1502.2 307.0,1502.1 310.0,1501.9 313.0,1501.7 316.0,1501.6 319.0,1501.4 322.0,1501.2 325.0,1501.0 328.0,1500.9 331.0,1500.7 334.0,1500.5 337.0,1500.3 340.0,1500.1 343.0,1499.9 346.0,1499.7 349.0,1499.5 352.0,1499.2 355.0,1499.0 358.0,1498.8 361.0,1498.6 363.9,1498.3 366.9,1498.1 369.9,1497.9 372.9,1497.6 375.9,1497.4 378.9,1497.1 381.9,1496.9 384.9,1496.6 387.8,1496.3 390.8,1496.1 393.8,1495.8 396.8,1495.5 399.8,1495.3 402.8,1495.0 405.7,1494.7 408.7,1494.4 411.7,1494.1 414.7,1493.8 417.7,1493.5 420.6,1493.2 423.6,1492.9 426.6,1492.6 429.6,1492.3 432.6,1491.9 435.5,1491.6 438.5,1491.3 441.5,1491.0 444.5,1490.6 447.4,1490.3 450.4,1489.9 453.4,1489.6 456.4,1489.2 459.3,1488.9 462.3,1488.5 465.3,1488.2 468.2,1487.8 471.2,1487.4 474.2,1487.1 477.1,1486.7 480.1,1486.3 483.1,1485.9 486.1,1485.5 489.0,1485.1 492.0,1484.7 495.0,1484.3 497.9,1483.9 500.9,1483.5 503.9,1483.1 506.8,1482.7 509.8,1482.3 512.8,1481.9 515.7,1481.4 518.7,1481.0 521.7,1480.6 524.6,1480.1 527.6,1479.7 530.5,1479.3 533.5,1478.8 536.5,1478.4 539.4,1477.9 542.4,1477.4 545.4,1477.0 548.3,1476.5 551.3,1476.0 554.2,1475.6 557.2,1475.1 560.2,1474.6 563.1,1474.1 566.1,1473.6 569.0,1473.1 572.0,1472.6 575.0,1472.1 577.9,1471.6 580.9,1471.1 583.9,1470.6 586.8,1470.1 589.8,1469.6 592.7,1469.0 595.7,1468.5 598.6,1468.0 601.6,1467.4 604.6,1466.9 607.5,1466.4 610.5,1465.8 613.4,1465.3 616.4,1464.7 619.3,1464.1 622.3,1463.6 625.3,1463.0 628.2,1462.4 631.2,1461.8 634.1,1461.2 637.1,1460.6 640.0,1460.0 642.9,1459.4 645.9,1458.8 648.8,1458.2 651.8,1457.6 654.7,1457.0 657.7,1456.3 660.6,1455.7 663.5,1455.0 666.5,1454.4 669.4,1453.7 672.3,1453.0 675.3,1452.4 678.2,1451.7 681.1,1451.0 684.0,1450.3 687.0,1449.6 689.9,1448.9 692.8,1448.2 695.7,1447.4 698.6,1446.7 701.5,1446.0 704.5,1445.2 707.4,1444.5 710.3,1443.7 713.2,1442.9 716.1,1442.1 719.0,1441.3 721.8,1440.5 724.7,1439.7 727.6,1438.9 730.5,1438.1 733.4,1437.2 736.3,1436.4 739.1,1435.5 742.0,1434.7 744.9,1433.8 747.7,1432.9 750.6,1432.0 753.5,1431.1 756.3,1430.2 759.2,1429.3 762.0,1428.4 764.9,1427.4 767.7,1426.5 770.5,1425.5 773.4,1424.5 776.2,1423.5 779.0,1422.5 781.8,1421.5 784.7,1420.5 787.5,1419.5 790.3,1418.4 793.1,1417.4 795.9,1416.3 798.7,1415.3 801.5,1414.2 804.3,1413.1 807.0,1412.0 809.8,1410.8 812.6,1409.7 815.3,1408.6 818.1,1407.4 820.9,1406.2 823.6,1405.0 826.4,1403.8 829.1,1402.6 831.8,1401.4 834.6,1400.2 837.3,1398.9 840.0,1397.6 842.7,1396.4 845.4,1395.1 848.1,1393.7 850.8,1392.4 853.5,1391.1 856.1,1389.7 858.8,1388.3 861.4,1386.9 864.0,1385.5 866.7,1384.1 869.3,1382.6 871.9,1381.1 874.5,1379.6 877.0,1378.1 879.6,1376.6 882.1,1375.0 884.7,1373.4 887.2,1371.8 889.7,1370.2 892.2,1368.6 894.7,1366.9 897.1,1365.2 899.6,1363.5 902.0,1361.8 904.4,1360.0 906.8,1358.2 909.2,1356.4 911.6,1354.6 913.9,1352.7 916.3,1350.8 918.6,1348.9 920.9,1347.0 923.1,1345.0 925.4,1343.1 927.6,1341.1 929.9,1339.0 932.1,1337.0 934.2,1334.9 936.4,1332.8 938.6,1330.7 940.7,1328.6 942.8,1326.4 944.9,1324.3 947.0,1322.1 949.0,1319.9 951.1,1317.7 953.1,1315.4 955.1,1313.2 957.1,1310.9 959.0,1308.6 961.0,1306.3 962.9,1304.0 964.8,1301.7 966.7,1299.4 968.5,1297.0 970.4,1294.7 972.2,1292.3 974.0,1289.9 975.8,1287.5 977.6,1285.1 979.4,1282.7 981.1,1280.2 982.8,1277.8 984.6,1275.3 986.3,1272.9 987.9,1270.4 989.6,1267.9 991.2,1265.4 992.9,1262.9 994.5,1260.4 996.1,1257.8 997.7,1255.3 999.2,1252.8 1000.8,1250.2 1002.3,1247.6 1003.9,1245.1 1005.4,1242.5 1006.9,1239.9 1008.4,1237.3 1009.8,1234.7 1011.3,1232.1 1012.7,1229.4 1014.2,1226.8 1015.6,1224.2 1017.0,1221.5 1018.4,1218.9 1019.8,1216.2 1021.2,1213.6 1022.5,1210.9 1023.9,1208.2 1025.2,1205.5 1026.5,1202.8 1027.9,1200.2 1029.2,1197.5 1030.5,1194.7 1031.7,1192.0 1033.0,1189.3 1034.3,1186.6 1035.5,1183.9 1036.8,1181.2 1038.0,1178.4 1039.3,1175.7 1040.5,1173.0 1041.7,1170.2 1042.9,1167.5 1044.1,1164.7 1045.3,1162.0 1046.4,1159.2 1047.6,1156.5 1048.8,1153.7 1049.9,1151.0 1051.1,1148.2 1052.2,1145.4 1053.3,1142.6 1054.4,1139.9 1055.6,1137.1 1056.7,1134.3 1057.8,1131.5 1058.8,1128.7 1059.9,1125.9 1061.0,1123.1 1062.1,1120.3 1063.1,1117.5 1064.2,1114.7 1065.2,1111.9 1066.3,1109.1 1067.3,1106.3 1068.3,1103.5 1069.4,1100.7 1070.4,1097.9 1071.4,1095.0 1072.4,1092.2 1073.4,1089.4 1074.4,1086.6 1075.4,1083.7 1076.4,1080.9 1077.3,1078.1 1078.3,1075.2 1079.3,1072.4 1080.2,1069.6 1081.2,1066.7 1082.1,1063.9 1083.1,1061.0 1084.0,1058.2 1085.0,1055.3 1085.9,1052.5 1086.8,1049.6 1087.7,1046.8 1088.7,1043.9 1089.6,1041.1 1090.5,1038.2 1091.4,1035.3 1092.3,1032.5 1093.2,1029.6 1094.1,1026.7 1095.0,1023.9 1095.9,1021.0 1096.8,1018.1 1097.6,1015.3 1098.5,1012.4 1099.4,1009.5 1100.3,1006.7 1101.1,1003.8 1102.0,1000.9 1102.9,998.0 1103.7,995.2 1104.6,992.3 1105.5,989.4 1106.3,986.5 1107.2,983.6 1108.0,980.8 1108.9,977.9 1109.7,975.0 1110.6,972.1 1111.4,969.2 1112.3,966.3 1113.1,963.5 1113.9,960.6 1114.8,957.7 1115.6,954.8 1116.5,951.9 1117.3,949.0 1118.1,946.2 1119.0,943.3 1119.8,940.4 1120.6,937.5 1121.5,934.6 1122.3,931.7 1123.1,928.8 1124.0,926.0 1124.8,923.1 1125.6,920.2 1126.5,917.3 1127.3,914.4 1128.1,911.5 1129.0,908.7 1129.8,905.8 1130.6,902.9 1131.5,900.0 1132.3,897.1 1133.1,894.2 1133.9,891.3 1134.8,888.5 1135.6,885.6 1136.4,882.7 1137.3,879.8 1138.1,876.9 1138.9,874.0 1139.7,871.1 1140.6,868.3 1141.4,865.4 1142.2,862.5 1143.1,859.6 1143.9,856.7 1144.7,853.8 1145.5,851.0 1146.4,848.1 1147.2,845.2 1148.0,842.3 1148.9,839.4 1149.7,836.5 1150.5,833.7 1151.4,830.8 1152.2,827.9 1153.0,825.0 1153.9,822.1 1154.7,819.3 1155.5,816.4 1156.4,813.5 1157.2,810.6 1158.0,807.7 1158.9,804.9 1159.7,802.0 1160.5,799.1 1161.4,796.2 1162.2,793.3 1163.1,790.5 1163.9,787.6 1164.7,784.7 1165.6,781.8 1166.4,778.9 1167.3,776.1 1168.1,773.2 1169.0,770.3 1169.8,767.4 1170.7,764.6 1171.5,761.7 1172.4,758.8 1173.2,755.9 1174.1,753.1 1174.9,750.2 1175.8,747.3 1176.6,744.4 1177.5,741.6 1178.3,738.7 1179.2,735.8 1180.1,733.0 1180.9,730.1 1181.8,727.2 1182.6,724.4 1183.5,721.5 1184.4,718.6 1185.3,715.7 1186.1,712.9 1187.0,710.0 1187.9,707.1 1188.8,704.3 1189.6,701.4 1190.5,698.6 1191.4,695.7 1192.3,692.8 1193.2,690.0 1194.0,687.1 1194.9,684.2 1195.8,681.4 1196.7,678.5 1197.6,675.7 1198.5,672.8 1199.4,669.9 1200.3,667.1 1201.2,664.2 1202.1,661.4 1203.0,658.5 1203.9,655.7 1204.8,652.8 1205.7,650.0 1206.7,647.1 1207.6,644.2 1208.5,641.4 1209.4,638.5 1210.3,635.7 1211.3,632.8 1212.2,630.0 1213.1,627.1 1214.1,624.3 1215.0,621.5 1215.9,618.6 1216.9,615.8 1217.8,612.9 1218.7,610.1 1219.7,607.2 1220.6,604.4 1221.6,601.5 1222.6,598.7 1223.5,595.9 1224.5,593.0 1225.4,590.2 1226.4,587.4 1227.4,584.5 1228.3,581.7 1229.3,578.8 1230.3,576.0 1231.3,573.2 1232.3,570.3 1233.2,567.5 1234.2,564.7 1235.2,561.9 1236.2,559.0 1237.2,556.2 1238.2,553.4 1239.2,550.6 1240.2,547.7 1241.3,544.9 1242.3,542.1 1243.3,539.3 1244.4,536.5 1245.4,533.7 1246.5,530.9 1247.5,528.1 1248.6,525.3 1249.7,522.5 1250.8,519.7 1251.9,516.9 1253.0,514.1 1254.1,511.3 1255.2,508.5 1256.3,505.8 1257.5,503.0 1258.7,500.3 1259.8,497.5 1261.0,494.7 1262.2,492.0 1263.5,489.3 1264.7,486.5 1265.9,483.8 1267.2,481.1 1268.5,478.4 1269.8,475.7 1271.1,473.0 1272.4,470.3 1273.7,467.6 1275.1,464.9 1276.5,462.3 1277.9,459.6 1279.3,457.0 1280.7,454.3 1282.2,451.7 1283.7,449.0 1285.2,446.4 1286.7,443.8 1288.2,441.2 1289.8,438.6 1291.3,436.1 1292.9,433.5 1294.6,431.0 1296.2,428.4 1297.9,425.9 1299.6,423.4 1301.3,420.9 1303.0,418.4 1304.8,416.0 1306.5,413.6 1308.3,411.1 1310.1,408.7 1312.0,406.4 1313.9,404.0 1315.7,401.7 1317.7,399.4 1319.6,397.1 1321.5,394.8 1323.5,392.6 1325.5,390.4 1327.6,388.2 1329.6,386.0 1331.7,383.9 1333.8,381.8 1335.9,379.7 1338.1,377.7 1340.3,375.7 1342.5,373.7 1344.7,371.7 1346.9,369.8 1349.2,367.9 1351.5,366.1 1353.8,364.2 1356.2,362.5 1358.6,360.7 1361.0,359.0 1363.4,357.3 1365.9,355.7 1368.3,354.1 1370.9,352.6 1373.4,351.1 1376.0,349.6 1378.5,348.2 1381.2,346.8 1383.8,345.4 1386.5,344.1 1389.2,342.9 1391.9,341.6 1394.6,340.4 1397.4,339.3 1400.1,338.2 1402.9,337.1 1405.7,336.0 1408.6,335.0 1411.4,333.9 1414.2,333.0 1417.1,332.0 1420.0,331.0 1422.8,330.1 1425.7,329.2 1428.6,328.3 1431.5,327.5 1434.4,326.6 1437.3,325.7 1440.2,324.9 1443.0,324.1 1445.9,323.2 1448.8,322.4 1451.7,321.6 1454.6,320.8 1457.4,320.0 1460.3,319.2 1463.1,318.4 1466.0,317.6 1468.8,316.8 1471.7,316.0 1474.5,315.2 1477.4,314.4 1480.2,313.7 1483.0,312.9 1485.9,312.2 1488.8,311.5 1491.6,310.8 1494.5,310.1 1497.4,309.4 1500.3,308.8 1503.2,308.2 1506.1,307.5 1509.0,306.9 1511.9,306.3 1514.8,305.7 1517.7,305.1 1520.6,304.5 1523.6,303.9 1526.5,303.3 1529.4,302.7 1532.3,302.1 1535.3,301.5 1538.2,300.8 1541.1,300.2 1544.0,299.5 1546.9,298.8 1549.8,298.1 1552.7,297.3 1555.6,296.6 1558.4,295.8 1561.3,294.9 1564.2,294.1 1567.0,293.2 1569.9,292.3 1572.7,291.4 1575.5,290.4 1578.3,289.4 1581.2,288.4 1584.0,287.4 1586.8,286.3 1589.6,285.3 1592.4,284.2 1595.1,283.1 1597.9,282.0 1600.7,280.9 1603.5,279.7 1606.3,278.6 1609.1,277.5 1611.8,276.3 1614.6,275.1 1617.4,274.0 1620.1,272.8 1622.9,271.6 1625.7,270.4 1628.4,269.3 1631.2,268.1 1634.0,266.9 1636.8,265.8 1639.5,264.6 1642.3,263.4 1645.1,262.3 1647.9,261.1 1650.7,260.0 1653.4,258.8 1656.2,257.6 1659.0,256.5 1661.7,255.3 1664.5,254.1 1667.2,252.9 1670.0,251.7 1672.7,250.5 1675.4,249.3 1678.1,248.0 1680.8,246.7 1683.5,245.4 1686.2,244.1 1688.9,242.8 1691.5,241.5 1694.2,240.1 1696.8,238.7 1699.4,237.3 1702.0,235.8 1704.6,234.4 1707.2,232.9 1709.7,231.4 1712.3,229.9 1714.8,228.4 1717.4,226.8 1719.9,225.3 1722.4,223.7 1724.9,222.1 1727.4,220.5 1729.9,218.9 1732.4,217.3 1734.9,215.7 1737.4,214.0 1739.9,212.4 1742.3,210.7 1744.8,209.1 1747.3,207.4 1749.7,205.7 1752.2,204.0 1754.7,202.3 1757.1,200.6 1759.6,198.9 1762.0,197.2 1764.5,195.5 1767.0,193.8 1769.4,192.1 1771.9,190.4 1774.3,188.7 1776.8,187.0 1779.2,185.3 1781.7,183.6 1784.1,181.8 1786.6,180.1 1789.0,178.4 1791.5,176.6 1793.9,174.9 1796.3,173.1 1798.7,171.3 1801.1,169.5 1803.4,167.7 1805.8,165.8 1808.2,164.0 1810.5,162.1 1812.8,160.3 1815.1,158.4 1817.4,156.4 1819.7,154.5 1821.9,152.5 1824.2,150.6 1826.4,148.6 1828.6,146.6 1830.8,144.5 1832.9,142.5 1835.1,140.4 1837.2,138.3 1839.4,136.2 1841.5,134.1 1843.6,132.0 1845.7,129.9 1847.8,127.8 1849.9,125.6 1852.0,123.4 1854.0,121.3 1856.1,119.1 1858.2,116.9 1860.2,114.8 1862.3,112.6 1864.3,110.4 1866.4,108.2 1868.4,106.0 1870.5,103.8 1872.5,101.6 1874.6,99.4 1876.6,97.2 1878.7,95.0 1880.7,92.8 1882.8,90.7 1884.8,88.5 1886.9,86.3 1889.0,84.2 1891.1,82.0 1893.2,79.9 1895.3,77.7 1897.4,75.6 1899.5,73.5 1901.6,71.4 1903.8,69.3 1905.9,67.2 1908.1,65.1 1910.3,63.1 1912.5,61.1 1914.7,59.1 1916.9,57.1 1919.1,55.1 1920.2,54.2" fill="none" stroke="#37AD6B" stroke-width="7.8" stroke-linejoin="round" stroke-linecap="round"/>
</g>
<rect x="700.2" y="1480" width="6.8" height="25" fill="#000"/>
<rect x="1388.7" y="1480" width="6.8" height="25" fill="#000"/>
<rect x="356.0" y="1494" width="6.8" height="11" fill="#000"/>
<rect x="1044.4" y="1494" width="6.8" height="11" fill="#000"/>
<rect x="1732.9" y="1494" width="6.8" height="11" fill="#000"/>
<rect x="293" y="1216.3" width="26" height="6" fill="#000"/>
<rect x="293" y="927.6" width="26" height="6" fill="#000"/>
<rect x="293" y="638.9" width="26" height="6" fill="#000"/>
<rect x="293" y="350.2" width="26" height="6" fill="#000"/>
<rect x="293" y="1360.7" width="11" height="6" fill="#000"/>
<rect x="293" y="1071.9" width="11" height="6" fill="#000"/>
<rect x="293" y="783.2" width="11" height="6" fill="#000"/>
<rect x="293" y="494.5" width="11" height="6" fill="#000"/>
<rect x="293" y="205.8" width="11" height="6" fill="#000"/>

<rect x="292.5" y="62" width="386" height="386" fill="#fff" stroke="#000" stroke-width="2.4"/>
<line x1="303" y1="119.0" x2="470" y2="119.0" stroke="#515151" stroke-width="8" stroke-linecap="round"/>
<text x="490" y="145.0" class="lg">500s</text>
<line x1="303" y1="211.4" x2="470" y2="211.4" stroke="#F14040" stroke-width="8" stroke-linecap="round"/>
<text x="490" y="237.4" class="lg">1000s</text>
<line x1="303" y1="303.8" x2="470" y2="303.8" stroke="#1A6FDF" stroke-width="8" stroke-linecap="round"/>
<text x="490" y="329.8" class="lg">2000s</text>
<line x1="303" y1="396.2" x2="470" y2="396.2" stroke="#37AD6B" stroke-width="8" stroke-linecap="round"/>
<text x="490" y="422.2" class="lg">3000s</text>

<rect x="287" y="61" width="1797" height="7.5" fill="#000"/>
<rect x="287" y="1505" width="1797" height="6" fill="#000"/>
<rect x="287" y="61" width="6.5" height="1450" fill="#000"/>
<rect x="2078" y="61" width="6" height="1450" fill="#000"/>

<line x1="949.0" y1="1504.3" x2="1382.6" y2="60.0" stroke="#009600" stroke-width="8.0" stroke-linecap="butt"/>
<line x1="1161.2" y1="1507.1" x2="1615.0" y2="58.3" stroke="#0000FF" stroke-width="8.0" stroke-linecap="butt"/>
<line x1="1214.0" y1="1504.3" x2="1685.0" y2="55.3" stroke="#FF0000" stroke-width="8.0" stroke-linecap="butt"/>
<line x1="1317.7" y1="1505.5" x2="1822.0" y2="66.0" stroke="#000000" stroke-width="8.0" stroke-linecap="butt"/>

<text x="260" y="1536.5" text-anchor="end" class="tk">0.0</text>
<text x="260" y="1247.8" text-anchor="end" class="tk">0.2</text>
<text x="260" y="959.1" text-anchor="end" class="tk">0.4</text>
<text x="260" y="670.4" text-anchor="end" class="tk">0.6</text>
<text x="260" y="381.7" text-anchor="end" class="tk">0.8</text>
<text x="260" y="93.0" text-anchor="end" class="tk">1.0</text>
<text x="703.6" y="1614" text-anchor="middle" class="tk">3.0</text>
<text x="1392.1" y="1614" text-anchor="middle" class="tk">3.5</text>
<text x="2080.6" y="1614" text-anchor="middle" class="tk">4.0</text>

<text x="1185.5" y="1778" text-anchor="middle" class="ti">Energy (eV)</text>
<text transform="translate(103.5,1130.3) rotate(-90)" class="ti">(<tspan dx="-3.0" textLength="63.3" lengthAdjust="spacingAndGlyphs">&#945;</tspan><tspan dx="-0.6">h</tspan><tspan dx="3.25">&#957;</tspan><tspan dx="2.1">)</tspan><tspan dy="-38" font-size="65">2</tspan><tspan dy="38"> (eV cm</tspan><tspan dy="-38" font-size="65">-1</tspan><tspan dy="38">)</tspan><tspan dy="-38" font-size="65">2</tspan></text>
</svg>
</body></html>
